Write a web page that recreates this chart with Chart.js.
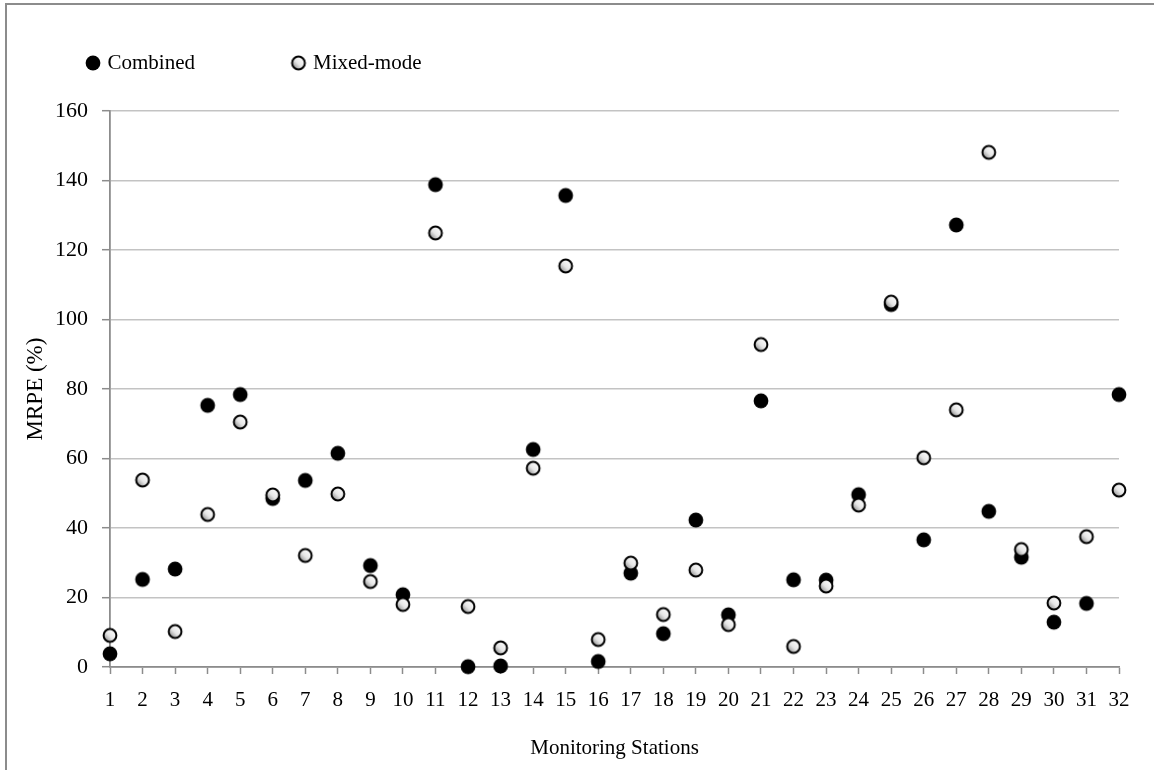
<!DOCTYPE html>
<html>
<head>
<meta charset="utf-8">
<script src="https://cdn.jsdelivr.net/npm/chart.js@4.4.1/dist/chart.umd.min.js"></script>
<style>
  html, body { margin: 0; padding: 0; background: #fff; overflow: hidden; }
  #frame { position: absolute; left: 5px; top: 3px; width: 1220px; height: 820px;
           border: 2px solid #8c8c8c; box-sizing: border-box; }
  #wrap { position: absolute; left: 0; top: 0; width: 1154px; height: 770px; }
</style>
</head>
<body>
<div id="frame"></div>
<div id="wrap"><canvas id="chart" width="1154" height="770"></canvas></div>
<script>
// Monitoring stations along the x axis
const stations = ['1','2','3','4','5','6','7','8','9','10','11','12','13','14','15','16',
                  '17','18','19','20','21','22','23','24','25','26','27','28','29','30','31','32'];

// MRPE (%) per station
const combined = [3.8, 25.2, 28.2, 75.3, 78.4, 48.5, 53.7, 61.5, 29.2, 20.8, 138.8, 0.1, 0.3, 62.6, 135.7, 1.6,
                  27.0, 9.6, 42.3, 15.0, 76.6, 25.1, 25.0, 49.6, 104.3, 36.6, 127.2, 44.8, 31.6, 12.9, 18.3, 78.4];
const mixedMode = [9.1, 53.8, 10.2, 43.9, 70.5, 49.5, 32.1, 49.8, 24.6, 18.0, 124.9, 17.4, 5.5, 57.2, 115.4, 7.9,
                   29.9, 15.1, 27.9, 12.2, 92.8, 5.9, 23.3, 46.6, 105.0, 60.2, 74.0, 148.1, 33.8, 18.4, 37.5, 50.9];

// y axis range
const yMin = 0, yMax = 160, yStep = 20;

const FONT = 'Liberation Serif, "Times New Roman", serif';
const FS = 21;
const AXIS_GREY = '#8c8c8c';
const GRID_GREY = '#c3c3c3';

// Layout targets
const PLOT_LEFT = 110, PLOT_TOP = 111, PLOT_BOTTOM = 667, PLOT_RIGHT = 1119;
const LEG_CX = 93, LEG_CY = 63, LEG_GAP = 205.5, BOX_W = 8;

// Marker images
function makeMarker(kind) {
  const c = document.createElement('canvas');
  c.width = 18; c.height = 18;
  const g = c.getContext('2d');
  g.beginPath();
  if (kind === 'solid') {
    g.arc(9, 9, 7.4, 0, Math.PI * 2);
    g.fillStyle = '#000';
    g.fill();
  } else {
    g.arc(9, 9, 6.4, 0, Math.PI * 2);
    const grad = g.createLinearGradient(3, 15, 14, 4);
    grad.addColorStop(0, '#7a7a7a');
    grad.addColorStop(0.5, '#e6e6e6');
    grad.addColorStop(1, '#ffffff');
    g.fillStyle = grad;
    g.fill();
    g.lineWidth = 2;
    g.strokeStyle = '#000';
    g.stroke();
  }
  return c;
}
const solidDot = makeMarker('solid');
const hollowDot = makeMarker('hollow');

// Spacing between legend entries from the measured label width
const meas = document.createElement('canvas').getContext('2d');
meas.font = FS + 'px ' + FONT;
const legendPad = LEG_GAP - (BOX_W + FS / 2 + meas.measureText('Combined').width);

// Legend placement: fixed band height and item position
const legendPlacement = {
  id: 'legendPlacement',
  beforeLayout(chart) {
    const lg = chart.legend;
    if (lg && !lg.__wrapped) {
      const fit = lg.fit;
      lg.fit = function () { fit.call(this); this.height = PLOT_TOP; };
      lg.__wrapped = true;
    }
  },
  afterLayout(chart) {
    const lg = chart.legend;
    if (!lg) return;
    lg.top = LEG_CY - legendPad - FS / 2;
    const dx = LEG_CX - (lg.left + legendPad + BOX_W / 2);
    lg.left += dx;
    lg.right += dx;
  }
};

new Chart(document.getElementById('chart'), {
  type: 'line',
  data: {
    labels: stations,
    datasets: [
      { label: 'Combined', data: combined, showLine: false, pointStyle: solidDot,
        pointRadius: 7, order: 1, clip: false,
        backgroundColor: '#000', borderColor: '#000' },
      { label: 'Mixed-mode', data: mixedMode, showLine: false, pointStyle: hollowDot,
        pointRadius: 7, order: 0, clip: false,
        backgroundColor: '#fff', borderColor: '#000' }
    ]
  },
  options: {
    responsive: false,
    animation: false,
    events: [],
    devicePixelRatio: 1,
    layout: { padding: { left: 0, top: 0, right: 1154 - PLOT_RIGHT, bottom: 0 } },
    plugins: {
      tooltip: { enabled: false },
      legend: {
        position: 'top',
        align: 'start',
        labels: {
          usePointStyle: true,
          pointStyleWidth: BOX_W,
          padding: legendPad,
          color: '#000',
          font: { family: FONT, size: FS },
          sort: (a, b) => a.datasetIndex - b.datasetIndex
        }
      }
    },
    scales: {
      x: {
        type: 'category',
        offset: false,
        grid: { display: true, drawOnChartArea: false, drawTicks: true, tickLength: 7,
                tickColor: AXIS_GREY, tickWidth: 1.5, color: AXIS_GREY },
        border: { display: true, color: AXIS_GREY, width: 1.8 },
        ticks: { color: '#000', font: { family: FONT, size: FS }, padding: 14, maxRotation: 0, autoSkip: false },
        title: { display: true, text: 'Monitoring Stations', color: '#000',
                 font: { family: FONT, size: FS }, padding: { top: 0, bottom: 9.4 } },
        afterFit(scale) { scale.height = 770 - PLOT_BOTTOM; }
      },
      y: {
        min: yMin, max: yMax,
        ticks: { stepSize: yStep, color: '#000', font: { family: FONT, size: 22 }, padding: 14 },
        grid: { color: GRID_GREY, lineWidth: 1.4, drawTicks: true, tickLength: 8,
                tickColor: AXIS_GREY, tickWidth: 1.5 },
        border: { display: true, color: AXIS_GREY, width: 1.8 },
        title: { display: true, text: 'MRPE (%)', color: '#000',
                 font: { family: FONT, size: 23 }, padding: { top: 22.2, bottom: 0 } },
        afterFit(scale) { scale.width = PLOT_LEFT; }
      }
    }
  },
  plugins: [legendPlacement]
});
</script>
</body>
</html>
